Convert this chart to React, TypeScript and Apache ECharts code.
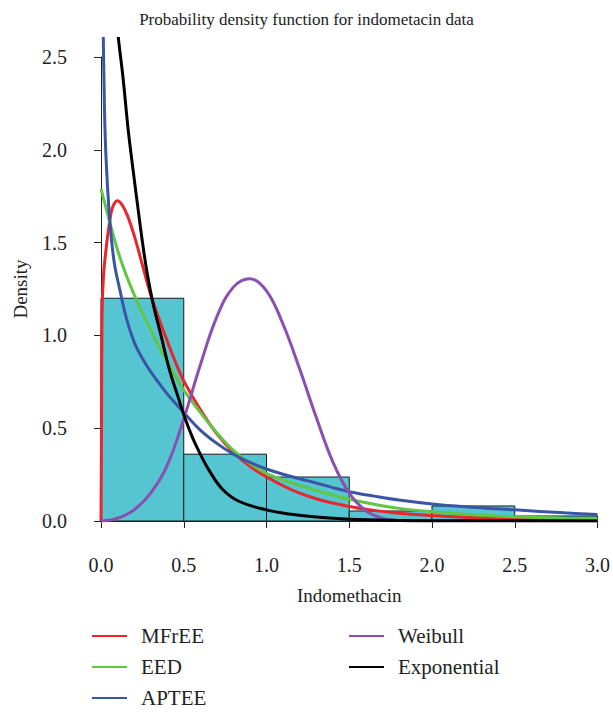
import React, { useEffect, useRef } from "react";
import * as echarts from "echarts";

const titleText = "Probability density function for indometacin data";
const xName = "Indomethacin";
const yName = "Density";
const xTicks = [0, 3, 0.5];
const yTicks = [0, 2.5, 0.5];

// histogram bins: [from, to, density]
const histBins = [
  [0.0, 0.5, 1.2],
  [0.5, 1.0, 0.36],
  [1.0, 1.5, 0.237],
  [1.5, 2.0, 0.054],
  [2.0, 2.5, 0.081],
  [2.5, 3.0, 0.027],
];

const mfreeCurve = [
  [0, 0], [0.003, 0.5], [0.006, 1.1], [0.015, 1.32], [0.03, 1.46], [0.05, 1.6],
  [0.07, 1.69], [0.1, 1.726], [0.13, 1.7], [0.16, 1.645], [0.2, 1.54], [0.25, 1.38],
  [0.3, 1.22], [0.35, 1.09], [0.4, 0.97], [0.45, 0.855], [0.5, 0.755], [0.6, 0.6],
  [0.7, 0.47], [0.8, 0.37], [0.9, 0.295], [1.0, 0.238], [1.1, 0.19], [1.2, 0.15],
  [1.3, 0.12], [1.4, 0.097], [1.5, 0.078], [1.6, 0.063], [1.8, 0.042], [2.0, 0.029],
  [2.2, 0.02], [2.5, 0.011], [2.8, 0.006], [3.0, 0.004],
];

const eedCurve = [
  [0, 1.79], [0.05, 1.62], [0.1, 1.46], [0.15, 1.33], [0.2, 1.22], [0.25, 1.12],
  [0.3, 1.03], [0.35, 0.94], [0.4, 0.86], [0.45, 0.78], [0.5, 0.705], [0.6, 0.585],
  [0.7, 0.475], [0.8, 0.38], [0.9, 0.31], [1.0, 0.257], [1.1, 0.222], [1.2, 0.192],
  [1.3, 0.164], [1.4, 0.14], [1.5, 0.117], [1.65, 0.09], [1.8, 0.068], [2.0, 0.05],
  [2.2, 0.037], [2.5, 0.023], [2.8, 0.015], [3.0, 0.011],
];

const apteeCurve = [
  [0.008, 3.2], [0.014, 2.6], [0.018, 2.38], [0.024, 2.11], [0.034, 1.89], [0.048, 1.68],
  [0.064, 1.51], [0.084, 1.37], [0.114, 1.245], [0.154, 1.09], [0.2, 0.965],
  [0.25, 0.875], [0.3, 0.805], [0.4, 0.685], [0.5, 0.585], [0.6, 0.49], [0.7, 0.418],
  [0.8, 0.36], [0.9, 0.316], [1.0, 0.28], [1.1, 0.252], [1.2, 0.228], [1.3, 0.205],
  [1.4, 0.18], [1.5, 0.158], [1.65, 0.134], [1.8, 0.113], [2.0, 0.092], [2.2, 0.077],
  [2.5, 0.06], [2.8, 0.044], [3.0, 0.035],
];

const weibullCurve = [
  [0, 0], [0.1, 0.015], [0.2, 0.06], [0.3, 0.15], [0.4, 0.3], [0.5, 0.55], [0.6, 0.84],
  [0.7, 1.1], [0.8, 1.26], [0.9, 1.305], [1.0, 1.24], [1.1, 1.06], [1.2, 0.82],
  [1.3, 0.56], [1.4, 0.32], [1.5, 0.15], [1.6, 0.055], [1.7, 0.015], [1.8, 0.003],
  [2.0, 0], [3.0, 0],
];

const expCurve = [
  [0.09, 2.75], [0.104, 2.61], [0.134, 2.38], [0.164, 2.11], [0.194, 1.89], [0.224, 1.68],
  [0.254, 1.48], [0.28, 1.33], [0.315, 1.17], [0.365, 0.99], [0.415, 0.81], [0.465, 0.67],
  [0.505, 0.56], [0.555, 0.445], [0.6, 0.36], [0.655, 0.27], [0.735, 0.17], [0.836, 0.105],
  [1.0, 0.06], [1.137, 0.038], [1.317, 0.02], [1.5, 0.01], [1.75, 0.004], [2.0, 0.002],
  [3.0, 0.0005],
];

const seriesNames = ["MFrEE", "EED", "APTEE", "Weibull", "Exponential"];
const seriesColors = ["#e8262b", "#62c645", "#3a55a6", "#8a4fb0", "#000000"];
const curves = [mfreeCurve, eedCurve, apteeCurve, weibullCurve, expCurve];

const FONT = "Liberation Serif";

export default function App() {
  const ref = useRef<HTMLDivElement>(null);
  useEffect(() => {
    document.body.style.margin = "0";
    if (!ref.current) return;
    const chart = echarts.init(ref.current, null, { renderer: "svg" });
    const grids = [
      { left: 101, right: 13, top: 38.4, bottom: 191 },
      { left: 101, right: 13, top: 57, bottom: 191 },
    ];
    const lineSeries = curves.map((c, i) => ({
      type: "line",
      name: seriesNames[i],
      data: c,
      xAxisIndex: 0,
      yAxisIndex: 0,
      showSymbol: false,
      smooth: 0.4,
      color: seriesColors[i],
      lineStyle: { color: seriesColors[i], width: 3 },
      z: 3 + i,
    }));
    const legendBase = {
      orient: "vertical",
      top: 625,
      padding: 0,
      height: 90,
      icon: "rect",
      itemWidth: 35,
      itemHeight: 2,
      itemGap: 9,
      textStyle: {
        fontFamily: FONT,
        fontSize: 21,
        color: "#222",
        lineHeight: 22,
        padding: [0, 0, 0, 9],
      },
    };
    chart.setOption({
      animation: false,
      title: {
        text: titleText,
        left: "center",
        top: 6,
        textStyle: { fontFamily: FONT, fontSize: 17, fontWeight: "normal", color: "#222" },
      },
      legend: [
        { ...legendBase, left: 92, data: seriesNames.slice(0, 3) },
        { ...legendBase, left: 349, data: seriesNames.slice(3) },
      ],
      grid: grids,
      xAxis: [
        {
          type: "value",
          gridIndex: 0,
          min: xTicks[0],
          max: xTicks[1],
          interval: xTicks[2],
          offset: 25,
          name: xName,
          nameLocation: "middle",
          nameGap: 40,
          nameTextStyle: { fontFamily: FONT, fontSize: 19, color: "#222" },
          axisLine: { show: true, lineStyle: { color: "#222", width: 1 } },
          axisTick: { show: true, length: 7, lineStyle: { color: "#222" } },
          axisLabel: {
            fontFamily: FONT,
            fontSize: 20,
            color: "#222",
            margin: 9,
            formatter: (v: number) => v.toFixed(1),
          },
          splitLine: { show: false },
        },
        { type: "value", gridIndex: 1, min: 0, max: 3, show: false },
      ],
      yAxis: [
        { type: "value", gridIndex: 0, min: 0, max: 2.6, show: false },
        {
          type: "value",
          gridIndex: 1,
          min: yTicks[0],
          max: yTicks[1],
          interval: yTicks[2],
          offset: 22,
          name: yName,
          nameLocation: "middle",
          nameGap: 49,
          nameTextStyle: { fontFamily: FONT, fontSize: 19, color: "#222" },
          axisLine: { show: true, lineStyle: { color: "#222", width: 1 } },
          axisTick: { show: true, length: 7, lineStyle: { color: "#222" } },
          axisLabel: {
            fontFamily: FONT,
            fontSize: 20,
            color: "#222",
            margin: 12,
            formatter: (v: number) => v.toFixed(1),
          },
          splitLine: { show: false },
        },
      ],
      series: [
        {
          type: "custom",
          name: "hist",
          xAxisIndex: 0,
          yAxisIndex: 0,
          data: histBins,
          encode: { x: [0, 1], y: 2 },
          z: 2,
          renderItem: (params: any, api: any) => {
            const p0 = api.coord([api.value(0), api.value(2)]);
            const p1 = api.coord([api.value(1), 0]);
            return {
              type: "rect",
              shape: { x: p0[0], y: p0[1], width: p1[0] - p0[0], height: p1[1] - p0[1] },
              style: { fill: "#55c5d1", stroke: "#1a1a1a", lineWidth: 1 },
            };
          },
        },
        ...lineSeries,
      ],
    } as any);
    return () => chart.dispose();
  }, []);
  return <div ref={ref} style={{ width: 613, height: 712 }} />;
}
